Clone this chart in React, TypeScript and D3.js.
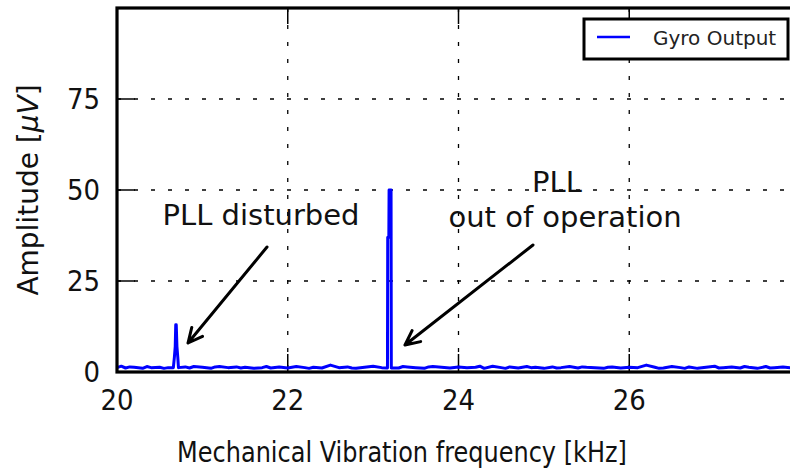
import * as d3 from "d3";

// baseline noise floor of the gyro output
const baseFreq = [
  20.0, 20.05, 20.1, 20.15, 20.2, 20.3, 20.35, 20.4, 20.5, 20.55, 20.6, 20.8, 20.85, 20.9, 21.0,
  21.1, 21.15, 21.2, 21.3, 21.4, 21.45, 21.5, 21.6, 21.7, 21.75, 21.8, 21.9, 22.0, 22.1, 22.2,
  22.25, 22.3, 22.4, 22.5, 22.6, 22.7, 22.75, 22.8, 22.9, 23.0, 23.1, 23.3, 23.35, 23.4, 23.5,
  23.6, 23.65, 23.7, 23.8, 23.9, 24.0, 24.1, 24.2, 24.25, 24.3, 24.4, 24.5, 24.55, 24.6, 24.7,
  24.8, 24.85, 24.9, 25.0, 25.1, 25.15, 25.2, 25.3, 25.4, 25.45, 25.5, 25.6, 25.7, 25.75, 25.8,
  25.9, 26.0, 26.1, 26.2, 26.3, 26.35, 26.4, 26.5, 26.6, 26.65, 26.7, 26.8, 26.9, 27.0, 27.05,
  27.1, 27.2, 27.3, 27.35, 27.4, 27.5, 27.6, 27.65, 27.7, 27.8, 27.9, 28.0,
];
const baseAmp = [
  1.2, 1.6, 1.1, 1.4, 1.3, 1.0, 1.5, 1.2, 1.3, 1.0, 1.2, 1.4, 1.1, 1.5, 1.3,
  1.0, 1.4, 1.5, 1.2, 1.4, 1.1, 1.3, 1.0, 1.2, 1.5, 1.1, 1.4, 1.1, 1.5, 1.2,
  1.0, 1.3, 1.1, 1.9, 1.2, 1.4, 1.1, 1.0, 1.3, 1.6, 1.2, 1.1, 1.5, 1.4, 1.2,
  1.0, 1.4, 1.5, 1.3, 1.1, 1.4, 1.2, 1.3, 1.6, 1.0, 1.6, 1.2, 1.0, 1.4, 1.1,
  1.5, 1.2, 1.3, 1.0, 1.4, 1.1, 1.2, 1.5, 1.1, 1.4, 1.3, 1.2, 1.0, 1.3, 1.4,
  1.1, 1.3, 1.2, 1.9, 1.3, 1.0, 1.1, 1.5, 1.2, 1.0, 1.4, 1.0, 1.3, 1.6, 1.1,
  1.2, 1.4, 1.1, 1.5, 1.3, 1.0, 1.5, 1.1, 1.2, 1.4, 1.1, 1.3,
];
// "PLL disturbed" spike
const peak1Freq = [20.66, 20.672, 20.682, 20.688, 20.694, 20.702, 20.712, 20.72];
const peak1Amp = [1.2, 4, 7, 13, 13, 7, 4, 1.2];
// "PLL out of operation" spike
const peak2Freq = [23.168, 23.171, 23.184, 23.187, 23.21, 23.213];
const peak2Amp = [1.1, 37, 37, 50, 50, 1.1];

const xTicks = [20, 22, 24, 26];
const yTicks = [0, 25, 50, 75];

const FONT = "DejaVu Sans, sans-serif";

const arrow = (x1: number, y1: number, x2: number, y2: number) => {
  const a = Math.atan2(y2 - y1, x2 - x1);
  const L = 16;
  const s = 0.45;
  const h1 = [x2 - L * Math.cos(a - s), y2 - L * Math.sin(a - s)];
  const h2 = [x2 - L * Math.cos(a + s), y2 - L * Math.sin(a + s)];
  return `M${x1},${y1}L${x2},${y2}M${h1[0]},${h1[1]}L${x2},${y2}L${h2[0]},${h2[1]}`;
};

export default function App() {
  const width = 790,
    height = 468;
  const x = d3.scaleLinear().domain([20, 28]).range([117, 800]);
  const y = d3.scaleLinear().domain([0, 100]).range([372, 8]);

  const pts: [number, number][] = [
    ...baseFreq.map((f, i) => [f, baseAmp[i]] as [number, number]),
    ...peak1Freq.map((f, i) => [f, peak1Amp[i]] as [number, number]),
    ...peak2Freq.map((f, i) => [f, peak2Amp[i]] as [number, number]),
  ].sort((a, b) => a[0] - b[0]);

  const line = d3
    .line<[number, number]>()
    .x((d) => x(d[0]))
    .y((d) => y(d[1]));

  const [x0, x1] = x.range();
  const [yb, yt] = y.range();

  return (
    <div style={{ position: "absolute", left: 0, top: 0 }}>
      <svg width={width} height={height} style={{ display: "block", background: "#fff" }}>
        {/* grid */}
        {xTicks.slice(1).map((t) => (
          <line key={"gx" + t} x1={x(t)} x2={x(t)} y1={yt} y2={yb} stroke="#000" strokeWidth={1.3} strokeDasharray="4 13" />
        ))}
        {yTicks.slice(1).map((t) => (
          <line key={"gy" + t} x1={x0} x2={x1} y1={y(t)} y2={y(t)} stroke="#000" strokeWidth={1.3} strokeDasharray="4 13" />
        ))}
        {/* ticks */}
        {xTicks.map((t) => (
          <g key={"tx" + t}>
            <line x1={x(t)} x2={x(t)} y1={yb} y2={yb - 18} stroke="#000" strokeWidth={1.5} />
            <line x1={x(t)} x2={x(t)} y1={yt} y2={yt + 16} stroke="#000" strokeWidth={1.5} />
            <text transform={`translate(${x(t)},410) scale(1,1.08)`} textAnchor="middle" fontFamily={FONT} fontSize={26} fill="#111">
              {t}
            </text>
          </g>
        ))}
        {yTicks.map((t) => (
          <g key={"ty" + t}>
            <line x1={x0} x2={x0 + 18} y1={y(t)} y2={y(t)} stroke="#000" strokeWidth={1.5} />
            <text transform={`translate(100,${y(t) + 10}) scale(1,1.08)`} textAnchor="end" fontFamily={FONT} fontSize={26} fill="#111">
              {t}
            </text>
          </g>
        ))}
        {/* data */}
        <path d={line(pts) ?? ""} fill="none" stroke="#0000ff" strokeWidth={3} strokeLinejoin="round" />
        {/* frame */}
        <rect x={x0} y={yt} width={x1 - x0} height={yb - yt} fill="none" stroke="#000" strokeWidth={3.2} />
        {/* annotations */}
        <text x={261} y={225} textAnchor="middle" fontFamily={FONT} fontSize={29} fill="#111">
          PLL disturbed
        </text>
        <text x={557} y={192} textAnchor="middle" fontFamily={FONT} fontSize={29} fill="#111">
          PLL
        </text>
        <text x={565} y={227} textAnchor="middle" fontFamily={FONT} fontSize={29} fill="#111">
          out of operation
        </text>
        <path d={arrow(267, 247, 188, 343)} fill="none" stroke="#000" strokeWidth={3} strokeLinecap="round" strokeLinejoin="round" />
        <path d={arrow(533, 245, 405, 345)} fill="none" stroke="#000" strokeWidth={3} strokeLinecap="round" strokeLinejoin="round" />
        {/* legend */}
        <rect x={584} y={19} width={204} height={40} fill="#fff" stroke="#000" strokeWidth={3} />
        <line x1={597} x2={630} y1={37} y2={37} stroke="#0000ff" strokeWidth={2.6} />
        <text x={653} y={45} fontFamily={FONT} fontSize={20} fill="#222">
          Gyro Output
        </text>
        {/* axis labels */}
        <text transform="translate(402,462) scale(1,1.15)" textAnchor="middle" fontFamily={FONT} fontSize={24} fill="#111">
          Mechanical Vibration frequency [kHz]
        </text>
        <text transform={`translate(38,${(yt + yb) / 2}) rotate(-90)`} textAnchor="middle" fontFamily={FONT} fontSize={28} fill="#111">
          Amplitude [<tspan fontStyle="italic">μV</tspan>]
        </text>
      </svg>
    </div>
  );
}
